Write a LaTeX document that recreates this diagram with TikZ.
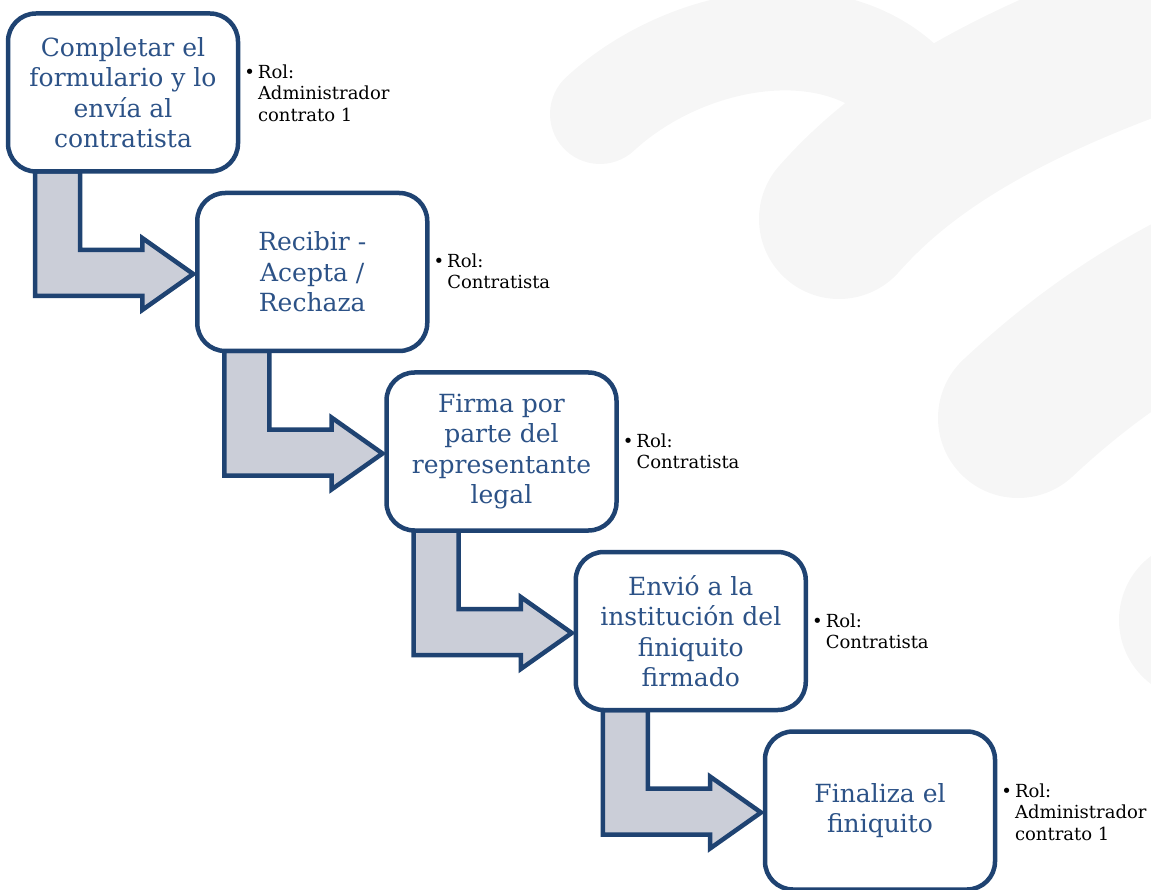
\documentclass[tikz,border=0pt]{standalone}
\usepackage{fontspec}
\setmainfont{DejaVu Serif}
\usetikzlibrary{calc}
\definecolor{bgsh}{RGB}{246,246,246}
\definecolor{bord}{RGB}{31,67,114}
\definecolor{btext}{RGB}{44,82,135}
\definecolor{arrfill}{RGB}{203,206,216}
\pgfdeclarelayer{bglayer}
\pgfdeclarelayer{arrlayer}
\pgfsetlayers{bglayer,arrlayer,main}
\tikzset{
  stepbox/.style={draw=bord, line width=4.5pt, fill=white, rounded corners=28pt,
    minimum width=230pt, minimum height=158pt, text=btext, align=center,
    font=\fontsize{25}{30.5}\selectfont, inner sep=0pt, outer sep=0pt},
  rolnote/.style={anchor=north west, align=left, text=black,
    font=\fontsize{18}{21.5}\selectfont, inner sep=0pt, outer sep=0pt},
  bent/.style={draw=bord, line width=4.5pt, fill=arrfill, line join=miter},
  swoosh/.style={draw=bgsh, line cap=round},
}
\begin{document}
\begin{tikzpicture}[x=1pt,y=-1pt]
\useasboundingbox (0,0) rectangle (1151,890);

% step boxes
\node[stepbox] (b1) at (123,92.5) {Completar el\\formulario y lo\\envía al\\contratista};
\node[stepbox] (b2) at (312.25,272) {Recibir -\\Acepta /\\Rechaza};
\node[stepbox] (b3) at (501.5,451.5) {Firma por\\parte del\\representante\\legal};
\node[stepbox] (b4) at (690.75,631) {Envió a la\\institución del\\finiquito\\firmado};
\node[stepbox] (b5) at (880,810.5) {Finaliza el\\finiquito};

% role notes
\node[rolnote] (r1) at ($(b1.north east)+(20,51.2)$) {\llap{•\hspace{3pt}}Rol:\\Administrador\\contrato 1};
\node[rolnote] (r2) at ($(b2.north east)+(20,60.7)$) {\llap{•\hspace{3pt}}Rol:\\Contratista};
\node[rolnote] (r3) at ($(b3.north east)+(20,61.2)$) {\llap{•\hspace{3pt}}Rol:\\Contratista};
\node[rolnote] (r4) at ($(b4.north east)+(20,61.7)$) {\llap{•\hspace{3pt}}Rol:\\Contratista};
\node[rolnote] (r5) at ($(b5.north east)+(20,52.2)$) {\llap{•\hspace{3pt}}Rol:\\Administrador\\contrato 1};

% bent arrows
\begin{pgfonlayer}{arrlayer}
\foreach \a/\b in {b1/b2,b2/b3,b3/b4,b4/b5} {
  \draw[bent] let \p1=(\a.south west), \p2=(\b.west) in
    (\x1+27pt,\y1) -- (\x1+27pt,\y2-24pt) -- (\x2-55pt,\y2-24pt) -- (\x2-55pt,\y2-38pt)
    -- (\x2-4pt,\y2-2pt) -- (\x2-55pt,\y2+34pt) -- (\x2-55pt,\y2+22pt)
    -- (\x1+72pt,\y2+22pt) -- (\x1+72pt,\y1) -- cycle;
}
\end{pgfonlayer}

% background watermark
\begin{pgfonlayer}{bglayer}
\begin{scope}
\clip (0,0) rectangle (1151,890);
\draw[swoosh, line width=100pt] (600,114) .. controls (680,40) and (820,10) .. (900,80);
\draw[swoosh, line width=160pt] (839,219) .. controls (900,150) and (1000,80) .. (1220,10);
\draw[swoosh, line width=160pt] (1018,418) .. controls (1080,360) and (1150,310) .. (1240,270);
\draw[swoosh, line width=160pt] (1199,620) -- (1300,550);
\end{scope}
\end{pgfonlayer}
\end{tikzpicture}
\end{document}
